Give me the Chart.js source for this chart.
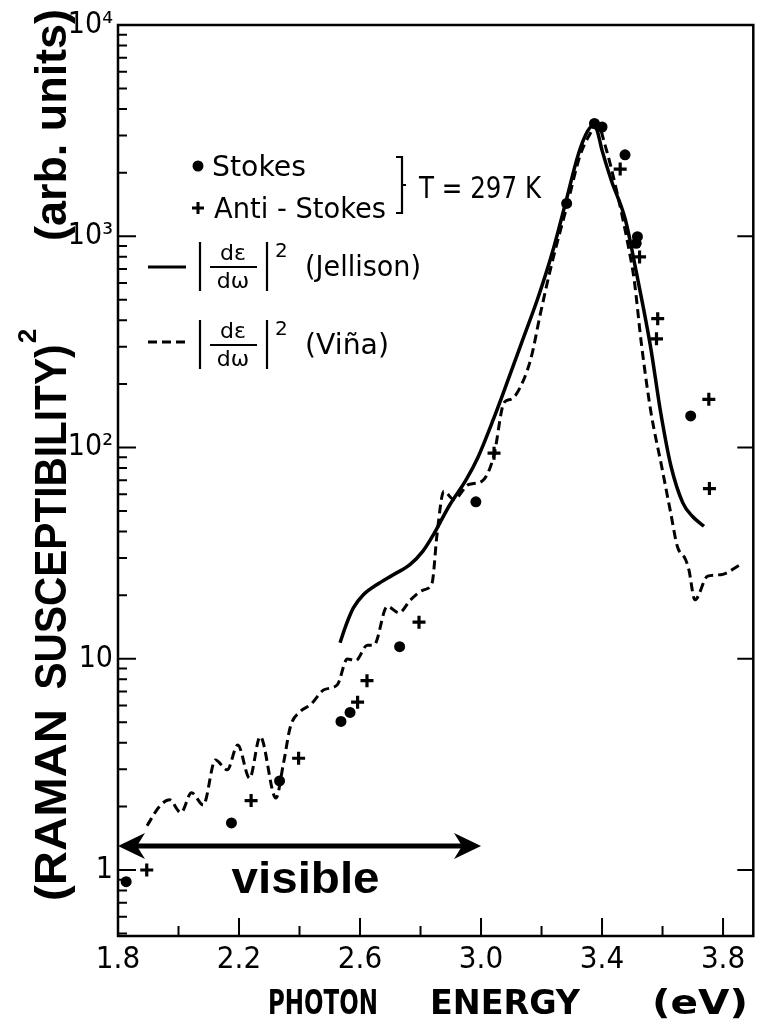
<!DOCTYPE html>
<html>
<head>
<meta charset="utf-8">
<script src="https://cdn.jsdelivr.net/npm/chart.js@4.4.1/dist/chart.umd.min.js"></script>
<style>
  html, body { margin: 0; padding: 0; background: #fff; }
  #wrap { position: relative; width: 763px; height: 1020px; }
</style>
</head>
<body>
<div id="wrap"><canvas id="ramanChart"></canvas></div>
<script>
// photon energy (eV) / raman susceptibility^2
const jellisonEnergy = [2.534, 2.552, 2.578, 2.611, 2.655, 2.71, 2.765, 2.808, 2.842, 2.895, 2.95, 2.99, 3.04, 3.09, 3.14, 3.19, 3.24, 3.28, 3.32, 3.345, 3.365, 3.38, 3.40, 3.43, 3.477, 3.513, 3.56, 3.594, 3.628, 3.667, 3.70, 3.737];
const jellisonValue = [11.9, 14.2, 17.4, 20.1, 22.4, 25, 27.9, 32.3, 38.5, 53, 70, 90, 135, 210, 330, 520, 880, 1450, 2400, 3000, 3300, 3250, 2550, 1850, 1200, 680, 302, 146, 81.5, 54.7, 47, 42.4];

const vinaEnergy = [1.896, 1.937, 1.97, 2.008, 2.043, 2.082, 2.122, 2.161, 2.196, 2.235, 2.27, 2.322, 2.347, 2.37, 2.403, 2.436, 2.481, 2.525, 2.558, 2.586, 2.624, 2.646, 2.69, 2.729, 2.767, 2.811, 2.838, 2.855, 2.877, 2.91, 2.959, 3.003, 3.042, 3.076, 3.098, 3.12, 3.164, 3.197, 3.232, 3.284, 3.327, 3.36, 3.385, 3.41, 3.45, 3.49, 3.506, 3.531, 3.562, 3.597, 3.627, 3.649, 3.676, 3.687, 3.707, 3.749, 3.793, 3.858];
const vinaValue = [1.62, 2.0, 2.15, 1.87, 2.32, 2.03, 3.32, 2.98, 3.91, 2.72, 4.28, 2.19, 3.2, 4.78, 5.63, 6.05, 7.13, 7.53, 9.97, 9.8, 11.6, 11.6, 17.7, 16.5, 19, 21.2, 22.8, 39.4, 62.1, 56.7, 66.8, 69.2, 91, 163, 169, 182, 261, 435, 723, 1390, 2403, 3044, 3400, 2700, 1600, 850, 626, 302, 146, 81.5, 49, 34, 29.5, 26.4, 19, 24.6, 25, 27.9];

const stokesEnergy = [1.827, 2.175, 2.334, 2.537, 2.567, 2.731, 2.983, 3.283, 3.375, 3.40, 3.476, 3.513, 3.517, 3.693];
const stokesValue = [0.88, 1.67, 2.64, 5.05, 5.57, 11.4, 55.3, 1430, 3420, 3290, 2430, 926, 995, 141];

const antiStokesEnergy = [1.895, 2.240, 2.397, 2.592, 2.623, 2.795, 3.043, 3.460, 3.524, 3.580, 3.584, 3.753, 3.755];
const antiStokesValue = [1.0, 2.13, 3.38, 6.23, 7.87, 14.9, 94, 2080, 798, 327, 407, 169, 63.9];

const xMajorTicks = [1.8, 2.2, 2.6, 3.0, 3.4, 3.8];
const xTickLabels = ['1.8', '2.2', '2.6', '3.0', '3.4', '3.8'];
const xMinorTicks = [2.0, 2.4, 2.8, 3.2, 3.6];
const yMajorTicks = [1, 10, 100, 1000, 10000];
const yTickLabels = ['1', '10', '10²', '10³', '10⁴'];
const yMinorSteps = [2, 3, 4, 5, 6, 7, 8, 9];

const visibleRange = [1.8, 3.0];
const visibleLevel = 1.3;

const X_MIN = 1.8, X_MAX = 3.9, Y_MIN = 0.487, Y_MAX = 10000;

function zip(xs, ys) {
  return xs.map((v, i) => ({ x: v, y: ys[i] }));
}

function near(a, b) { return Math.abs(a - b) < 1e-6; }

function xLabelFor(v) {
  const i = xMajorTicks.findIndex(m => near(m, v));
  return i >= 0 ? xTickLabels[i] : '';
}

function yLabelFor(v) {
  const i = yMajorTicks.findIndex(m => Math.abs(m - v) / m < 1e-6);
  return i >= 0 ? yTickLabels[i] : '';
}

function yTickValues() {
  const vals = [];
  [0.1].concat(yMajorTicks).forEach(d => {
    if (d >= Y_MIN && d <= Y_MAX) vals.push(d);
    yMinorSteps.forEach(m => {
      const v = d * m;
      if (v >= Y_MIN && v < Y_MAX) vals.push(v);
    });
  });
  return vals.sort((a, b) => a - b);
}

const SANS = '"DejaVu Sans", sans-serif';
const NARROW = '"Liberation Sans Narrow", "DejaVu Sans Condensed", "Arial Narrow", sans-serif';
const BOLD = '"Liberation Sans", Arial, sans-serif';

// squeeze/stretch a word so it covers exactly `width` px
function fitText(ctx, text, x, y, width) {
  const w = ctx.measureText(text).width;
  ctx.save();
  ctx.translate(x, y);
  ctx.scale(width / w, 1);
  ctx.fillText(text, 0, 0);
  ctx.restore();
}

function drawPlus(ctx, cx, cy, r) {
  ctx.beginPath();
  ctx.moveTo(cx - r, cy); ctx.lineTo(cx + r, cy);
  ctx.moveTo(cx, cy - r); ctx.lineTo(cx, cy + r);
  ctx.stroke();
}

function drawDerivative(ctx, left, midY, tail) {
  // |dε/dω|^2 (tail)
  ctx.lineWidth = 2.2;
  ctx.beginPath();
  ctx.moveTo(left, midY - 25); ctx.lineTo(left, midY + 24);
  ctx.moveTo(left + 67, midY - 25); ctx.lineTo(left + 67, midY + 24);
  ctx.moveTo(left + 10, midY); ctx.lineTo(left + 57, midY);
  ctx.stroke();
  ctx.textAlign = 'center';
  ctx.font = '22px ' + SANS;
  ctx.fillText('dε', left + 33, midY - 7);
  ctx.fillText('dω', left + 33, midY + 21);
  ctx.textAlign = 'left';
  ctx.font = '20px ' + SANS;
  ctx.fillText('2', left + 75, midY - 10);
  ctx.font = '28px ' + SANS;
  fitText(ctx, tail.text, left + 105, midY + 9, tail.width);
}

const decorations = {
  id: 'decorations',
  afterDatasetsDraw(chart) {
    const { ctx, chartArea: a, scales: { x, y } } = chart;
    ctx.save();
    ctx.strokeStyle = '#000';
    ctx.fillStyle = '#000';

    // frame
    ctx.lineWidth = 2.5;
    ctx.strokeRect(a.left, a.top, a.right - a.left, a.bottom - a.top);

    // inward ticks
    ctx.lineWidth = 2;
    ctx.beginPath();
    x.ticks.forEach(t => {
      const px = x.getPixelForValue(t.value);
      const len = xLabelFor(t.value) ? 18 : 10;
      ctx.moveTo(px, a.bottom); ctx.lineTo(px, a.bottom - len);
    });
    y.ticks.forEach(t => {
      const py = y.getPixelForValue(t.value);
      const major = yLabelFor(t.value) !== '';
      ctx.moveTo(a.left, py); ctx.lineTo(a.left + (major ? 18 : 9), py);
      if (major) { ctx.moveTo(a.right, py); ctx.lineTo(a.right - 16, py); }
    });
    ctx.stroke();

    // visible-range arrow
    const ay = y.getPixelForValue(visibleLevel);
    const x0 = x.getPixelForValue(visibleRange[0]);
    const x1 = x.getPixelForValue(visibleRange[1]);
    ctx.lineWidth = 5;
    ctx.beginPath();
    ctx.moveTo(x0 + 12, ay); ctx.lineTo(x1 - 12, ay);
    ctx.stroke();
    [[x0, 1], [x1, -1]].forEach(([tip, dir]) => {
      ctx.beginPath();
      ctx.moveTo(tip, ay);
      ctx.lineTo(tip + dir * 27, ay - 13);
      ctx.lineTo(tip + dir * 19, ay);
      ctx.lineTo(tip + dir * 27, ay + 13);
      ctx.closePath();
      ctx.fill();
    });
    ctx.font = 'bold 45px ' + BOLD;
    ctx.textAlign = 'left';
    ctx.textBaseline = 'alphabetic';
    fitText(ctx, 'visible', x.getPixelForValue(2.42) - 74, 893, 148);

    // legend
    ctx.beginPath();
    ctx.arc(198, 166, 5.5, 0, Math.PI * 2);
    ctx.fill();
    ctx.lineWidth = 3;
    drawPlus(ctx, 198, 208, 6);
    ctx.font = '28px ' + SANS;
    fitText(ctx, 'Stokes', 212, 176, 94);
    fitText(ctx, 'Anti - Stokes', 214, 218, 172);
    ctx.lineWidth = 2.2;
    ctx.beginPath();
    ctx.moveTo(396, 157); ctx.lineTo(402, 157); ctx.lineTo(402, 213);
    ctx.lineTo(396, 213);
    ctx.moveTo(402, 185); ctx.lineTo(406, 185);
    ctx.stroke();
    ctx.font = '30px ' + SANS;
    fitText(ctx, 'T = 297 K', 419, 198, 122);

    ctx.lineWidth = 3;
    ctx.beginPath();
    ctx.moveTo(148, 267); ctx.lineTo(186, 267);
    ctx.stroke();
    drawDerivative(ctx, 200, 267, { text: '(Jellison)', width: 116 });

    ctx.lineWidth = 3;
    ctx.setLineDash([9, 5]);
    ctx.beginPath();
    ctx.moveTo(148, 342); ctx.lineTo(187, 342);
    ctx.stroke();
    ctx.setLineDash([]);
    drawDerivative(ctx, 200, 345, { text: '(Viña)', width: 84 });

    // axis titles
    ctx.font = 'bold 34px ' + NARROW;
    fitText(ctx, 'PHOTON', 268, 1014, 110);
    fitText(ctx, 'ENERGY', 430, 1014, 150);
    fitText(ctx, '(eV)', 652, 1014, 96);

    ctx.font = 'bold 44px ' + BOLD;
    [['(RAMAN', 805, 192], ['SUSCEPTIBILITY)', 517, 345], ['(arb. units)', 125, 232]].forEach(([txt, cy, w]) => {
      ctx.save();
      ctx.translate(66, cy);
      ctx.rotate(-Math.PI / 2);
      fitText(ctx, txt, -w / 2, 0, w);
      ctx.restore();
    });
    ctx.save();
    ctx.translate(36, 336);
    ctx.rotate(-Math.PI / 2);
    ctx.font = 'bold 26px ' + BOLD;
    ctx.textAlign = 'center';
    ctx.fillText('2', 0, 0);
    ctx.restore();

    ctx.restore();
  }
};

new Chart(document.getElementById('ramanChart').getContext('2d'), {
  type: 'scatter',
  data: {
    datasets: [
      {
        label: 'Stokes',
        data: zip(stokesEnergy, stokesValue),
        pointStyle: 'circle',
        pointRadius: 5.5,
        backgroundColor: '#000',
        borderColor: '#000',
        borderWidth: 0
      },
      {
        label: 'Anti-Stokes',
        data: zip(antiStokesEnergy, antiStokesValue),
        pointStyle: 'cross',
        pointRadius: 6.5,
        borderColor: '#000',
        borderWidth: 3.2
      },
      {
        label: '|dε/dω|² (Jellison)',
        data: zip(jellisonEnergy, jellisonValue),
        showLine: true,
        pointRadius: 0,
        borderColor: '#000',
        borderWidth: 3.5,
        cubicInterpolationMode: 'monotone'
      },
      {
        label: '|dε/dω|² (Viña)',
        data: zip(vinaEnergy, vinaValue),
        showLine: true,
        pointRadius: 0,
        borderColor: '#000',
        borderWidth: 3,
        borderDash: [9, 5],
        cubicInterpolationMode: 'monotone'
      }
    ]
  },
  options: {
    responsive: true,
    maintainAspectRatio: false,
    animation: false,
    layout: { padding: { top: 25, right: 7, left: 0, bottom: 0 } },
    plugins: {
      legend: { display: false },
      tooltip: { enabled: false }
    },
    scales: {
      x: {
        type: 'linear',
        min: X_MIN,
        max: X_MAX,
        grid: { display: false, drawTicks: false },
        border: { display: false },
        afterBuildTicks: scale => {
          scale.ticks = xMajorTicks.concat(xMinorTicks).sort((a, b) => a - b).map(v => ({ value: v }));
        },
        afterFit: scale => { scale.height = 84; },
        ticks: {
          autoSkip: false,
          maxRotation: 0,
          padding: 5,
          color: '#000',
          font: { size: 31, family: NARROW },
          callback: v => xLabelFor(v)
        }
      },
      y: {
        type: 'logarithmic',
        min: Y_MIN,
        max: Y_MAX,
        grid: { display: false, drawTicks: false },
        border: { display: false },
        afterBuildTicks: scale => {
          scale.ticks = yTickValues().map(v => ({ value: v }));
        },
        afterFit: scale => { scale.width = 118; },
        ticks: {
          autoSkip: false,
          padding: 5,
          color: '#000',
          font: { size: 30, family: NARROW },
          callback: v => yLabelFor(v)
        }
      }
    }
  },
  plugins: [decorations]
});
</script>
</body>
</html>
